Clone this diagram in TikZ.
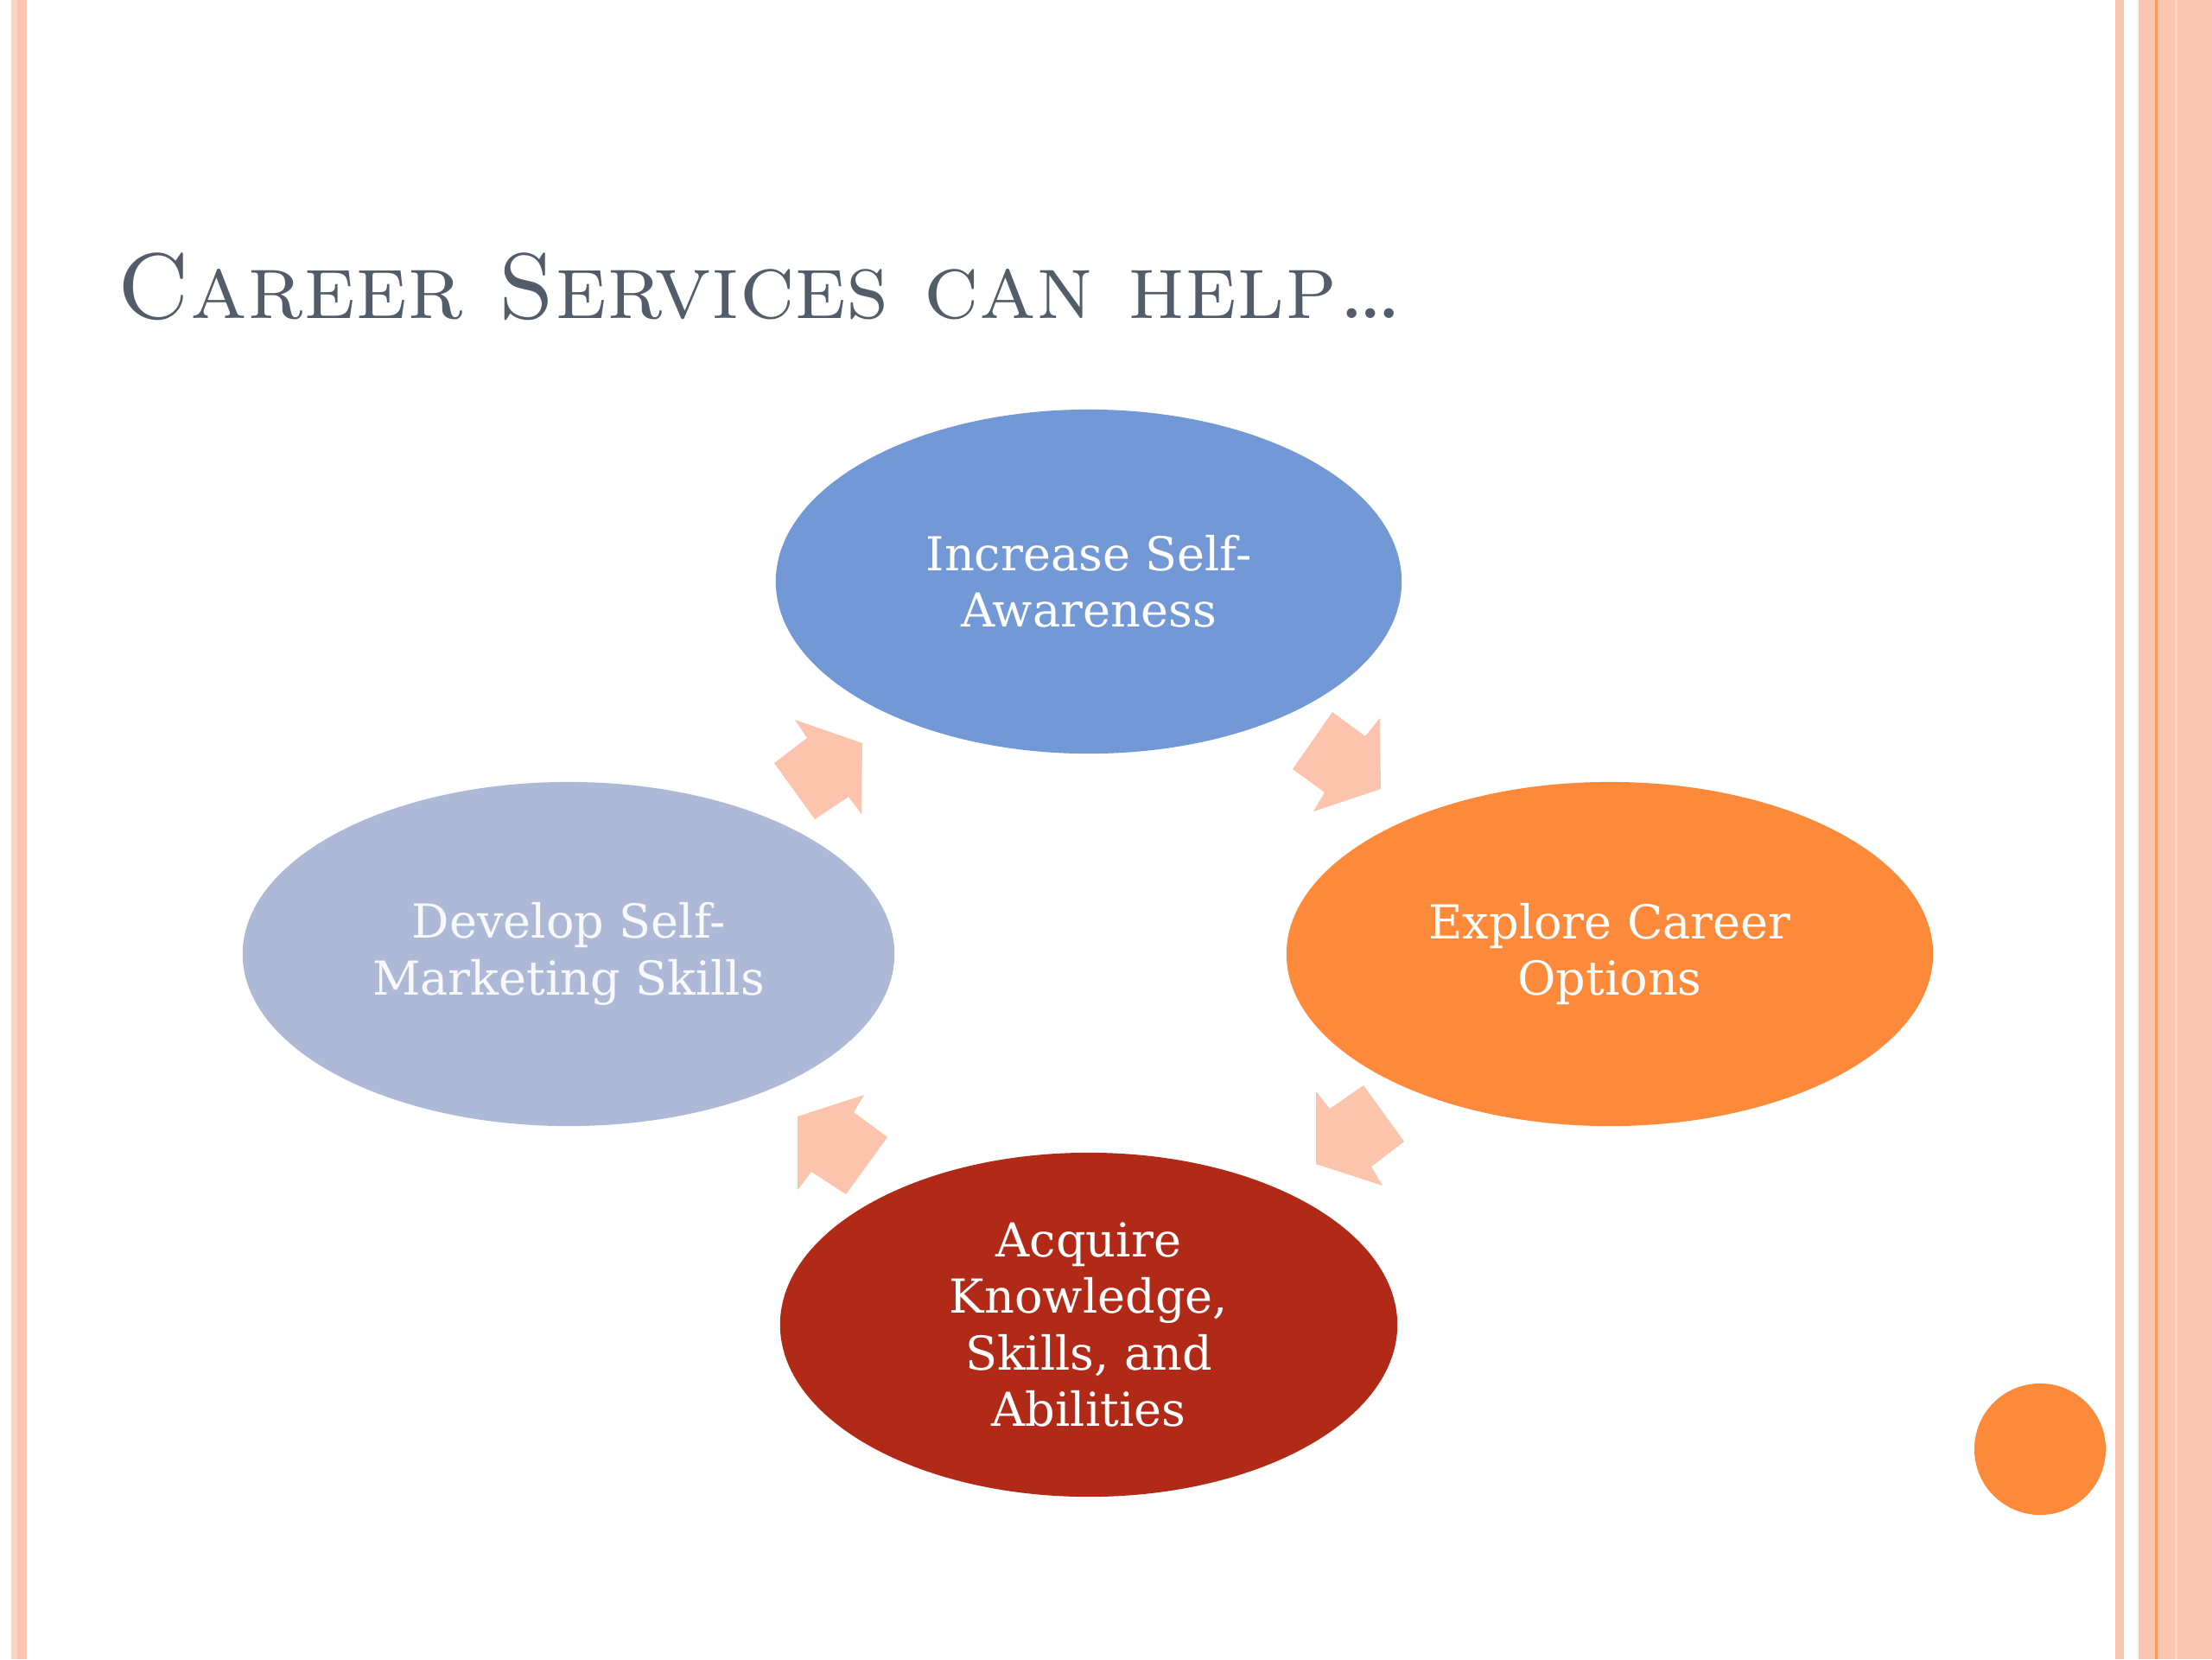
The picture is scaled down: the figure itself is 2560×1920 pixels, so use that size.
\documentclass[tikz,border=0pt]{standalone}
\usepackage{fontspec}
\newfontfamily\bubblefont{DejaVu Serif}
\usetikzlibrary{shapes.geometric}
\definecolor{salmon}{HTML}{FBC6B0}
\definecolor{salmonlt}{HTML}{FDD5C4}
\definecolor{stripeor}{HTML}{FA9A5E}
\definecolor{titlegray}{HTML}{535D69}
\definecolor{cblue}{HTML}{7398D6}
\definecolor{corange}{HTML}{FD893A}
\definecolor{cred}{HTML}{B02A17}
\definecolor{cgray}{HTML}{ADB9D6}
\definecolor{arrowc}{HTML}{FCC3AD}
\tikzset{
  bubble/.style={ellipse, inner sep=0pt, text=white, align=center,
    font=\bubblefont\fontsize{15.4}{18.6}\selectfont, minimum height=3.98cm},
  blockarrow/.style={fill=arrowc, draw=none}
}
\begin{document}
\begin{tikzpicture}[x=0.01cm,y=-0.01cm]
\useasboundingbox (0,0) rectangle (2560,1920);
\fill[white] (0,0) rectangle (2560,1920);
% left border
\fill[salmonlt] (13,0) rectangle (20,1920);
\fill[salmon] (20,0) rectangle (31,1920);
% right border
\fill[salmon] (2448,0) rectangle (2458,1920);
\fill[salmon] (2475,0) rectangle (2560,1920);
\fill[salmon!85!orange!60] (2517,0) rectangle (2520,1920);
\fill[stripeor] (2494,0) rectangle (2497,1920);
% title
\node[anchor=base west, inner sep=0pt, text=titlegray,
  font=\fontsize{30.6}{34}\selectfont\scshape] (title) at (135,368) {Career Services can help\ldots};
% ellipses
\node[bubble, fill=cblue, minimum width=7.24cm] (top) at (1260,673) {Increase Self-\\Awareness};
\node[bubble, fill=corange, minimum width=7.48cm] (right) at (1863,1104) {Explore Career\\Options};
\node[bubble, fill=cred, minimum width=7.14cm] (bottom) at (1260,1533) {Acquire\\Knowledge,\\Skills, and\\Abilities};
\node[bubble, fill=cgray, text=white!92!cgray, minimum width=7.54cm] (left) at (658,1104) {Develop Self-\\Marketing Skills};
% circle
\node[circle, fill=corange, minimum size=1.52cm, inner sep=0pt] (dot) at (2361,1677) {};
% block arrows
\fill[blockarrow] (920,833) -- (934,854) -- (896,883) -- (943,948) -- (982,922) -- (997,942) -- (998,860) -- cycle;
\fill[blockarrow] (1542,824) -- (1580,852) -- (1597,831) -- (1598,913) -- (1520,939) -- (1533,917) -- (1496,890) -- cycle;
\fill[blockarrow] (1578,1256) -- (1625,1321) -- (1587,1350) -- (1600,1372) -- (1523,1347) -- (1523,1263) -- (1539,1283) -- cycle;
\fill[blockarrow] (1000,1267) -- (988,1287) -- (1027,1316) -- (979,1382) -- (939,1356) -- (923,1377) -- (923,1292) -- cycle;
\end{tikzpicture}
\end{document}
